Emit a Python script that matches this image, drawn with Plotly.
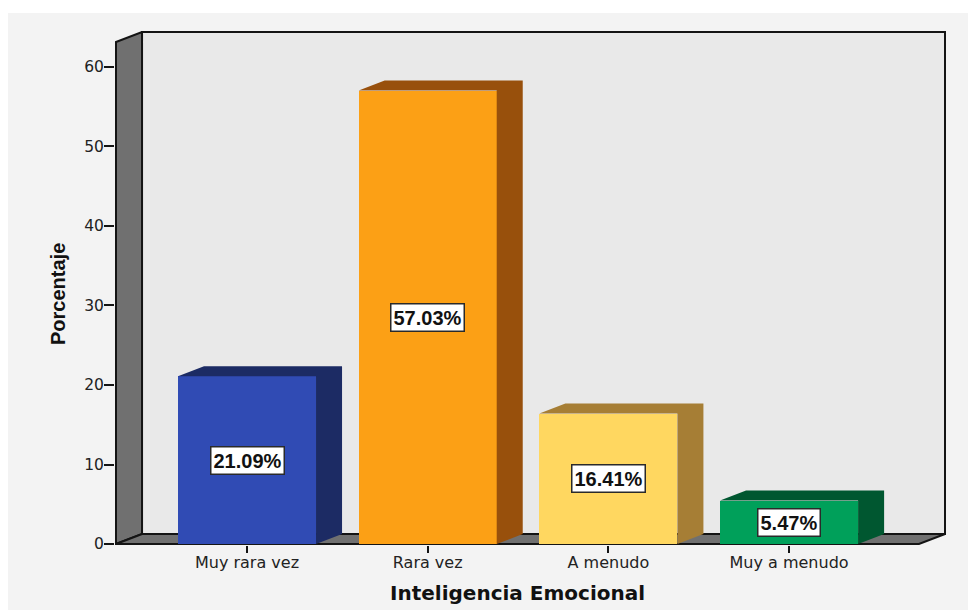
import plotly.graph_objects as go

categories = ["Muy rara vez", "Rara vez", "A menudo", "Muy a menudo"]
percent = [21.09, 57.03, 16.41, 5.47]
labels = ["21.09%", "57.03%", "16.41%", "5.47%"]
y_ticks = [0, 10, 20, 30, 40, 50, 60]
x_title = "Inteligencia Emocional"
y_title = "Porcentaje"
front_colors = ["#304bb4", "#fca015", "#ffd760", "#00a05a"]
depth_colors = ["#1c2b64", "#98500c", "#a67e35", "#005730"]

FONT = "Liberation Sans"
WIDE = "DejaVu Sans"
X0, X1 = -0.725, 3.863
Y_TOP = 64.4
DX, DY = 0.144, 1.258
BAR_W = 0.764
LINE = "#141414"
PADX, PADY = 1 / 180.67, 1 / 7.95

fig = go.Figure()

shapes = [
    # white strip above the grey panel
    dict(type="rect", xref="paper", yref="paper", x0=-0.2, x1=1.1, y0=1.035, y1=1.1,
         fillcolor="#ffffff", line_width=0, layer="below"),
    # back wall
    dict(type="path", layer="below", fillcolor="#e9e9e9", line=dict(color=LINE, width=2),
         path=f"M{X0+DX},{DY} L{X1},{DY} L{X1},{Y_TOP} L{X0+DX},{Y_TOP} Z"),
    # left wall
    dict(type="path", layer="below", fillcolor="#707070", line=dict(color=LINE, width=2),
         path=f"M{X0},0 L{X0+DX},{DY} L{X0+DX},{Y_TOP} L{X0},{Y_TOP-DY} Z"),
    # floor
    dict(type="path", layer="below", fillcolor="#707070", line=dict(color=LINE, width=2),
         path=f"M{X0},0 L{X0+DX},{DY} L{X1},{DY} L{X1-DX},0 Z"),
]

fig.add_trace(go.Bar(
    x=list(range(len(categories))), y=percent, width=BAR_W,
    marker=dict(color=front_colors, line=dict(width=0)),
    showlegend=False, hoverinfo="skip"))

for i, (v, c) in enumerate(zip(percent, depth_colors)):
    l, r = i - BAR_W / 2, i + BAR_W / 2
    fig.add_trace(go.Scatter(
        x=[l, l + DX, r + DX, r + DX, r, r, l],
        y=[v, v + DY, v + DY, DY, 0, v, v],
        fill="toself", fillcolor=c, mode="lines", line=dict(width=0),
        showlegend=False, hoverinfo="skip"))

annotations = [
    dict(x=i, y=v / 2, text=f"<b>{t}</b>", showarrow=False, bgcolor="#ffffff", bordercolor="#2a2a2a",
         borderwidth=1.5, borderpad=2, font=dict(family=FONT, size=20, color="#111111"))
    for i, (v, t) in enumerate(zip(percent, labels))
]
annotations += [
    dict(xref="paper", yref="paper", x=0.4844, y=-0.0934, xanchor="center", yanchor="middle",
         text=f"<b>{x_title}</b>", showarrow=False,
         font=dict(family=WIDE, size=20, color="#111111")),
    dict(xref="paper", yref="paper", x=-0.0686, y=0.4883, xanchor="center", yanchor="middle",
         text=f"<b>{y_title}</b>", showarrow=False,
         textangle=-90, font=dict(family=FONT, size=20, color="#111111")),
]

fig.update_layout(
    width=968, height=602, autosize=False,
    margin=dict(l=107, r=30, t=23, b=65),
    paper_bgcolor="#f3f3f3", plot_bgcolor="#f3f3f3",
    shapes=shapes, annotations=annotations, bargap=0,
    font=dict(family=WIDE, color="#222222"),
    xaxis=dict(range=[X0 - PADX, X1 + PADX], tickmode="array", tickvals=list(range(4)), ticktext=categories,
               ticks="outside", ticklen=7, tickwidth=1.5, tickcolor=LINE, showgrid=False, zeroline=False,
               showline=False, automargin=False, ticklabelstandoff=-4,
               tickfont=dict(family=WIDE, size=16, color="#222222")),
    yaxis=dict(range=[-PADY, Y_TOP + PADY], tickmode="array", tickvals=y_ticks,
               ticks="outside", ticklen=10, tickwidth=1.5, tickcolor=LINE, showgrid=False, zeroline=False,
               showline=False, automargin=False, ticklabelstandoff=-3,
               tickfont=dict(family=WIDE, size=15.5, color="#222222")),
)
fig.write_html("out.html")
